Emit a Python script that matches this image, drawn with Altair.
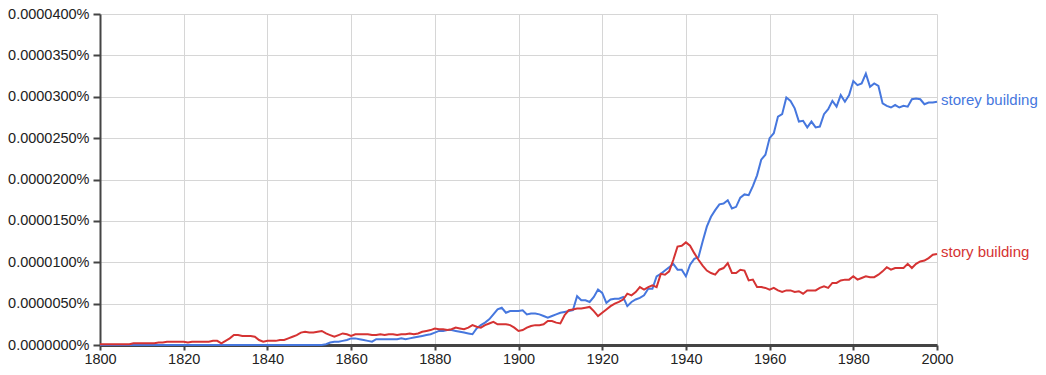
import altair as alt
import pandas as pd

# values in units of 0.0000001 %
years = list(range(1800, 2001))

storey = [
    0, 0, 0, 0, 0, 0, 0, 0, 0, 0,            # 1800
    0, 0, 0, 0, 0, 0, 0, 0, 0, 0,            # 1810
    0, 0, 0, 0, 0, 0, 0, 0, 0, 0,            # 1820
    0, 0, 0, 0, 0, 0, 0, 0, 0, 0,            # 1830
    0, 0, 0, 0, 0, 0, 0, 0, 0, 0,            # 1840
    0, 0, 0, 0, 1, 3, 4, 4, 5, 6,            # 1850
    8, 8, 7, 6, 5, 4, 7, 7, 7, 7,            # 1860
    7, 7, 8, 7, 8, 9, 10, 11, 12, 13,        # 1870
    15, 17, 17, 18, 18, 17, 16, 15, 14, 13,  # 1880
    20, 24, 27, 31, 37, 43, 45, 39, 41, 41,  # 1890
    41, 42, 37, 38, 38, 37, 35, 33, 35, 37,  # 1900
    39, 40, 41, 42, 59, 54, 54, 52, 58, 67,  # 1910
    63, 51, 55, 56, 56, 58, 47, 52, 55, 57,  # 1920
    60, 68, 68, 83, 86, 90, 94, 98, 91, 91,  # 1930
    83, 97, 104, 106, 125, 143, 155, 163, 170, 171,  # 1940
    175, 165, 167, 178, 182, 181, 192, 205, 224, 230,  # 1950
    250, 256, 276, 279, 299, 295, 286, 270, 271, 263,  # 1960
    270, 263, 264, 279, 285, 295, 288, 302, 294, 302,  # 1970
    319, 314, 316, 328, 312, 316, 313, 292, 289, 287,  # 1980
    290, 287, 289, 288, 297, 298, 297, 291, 293, 293,  # 1990
    294,                                     # 2000
]

story = [
    1, 1, 1, 1, 1, 1, 1, 1, 2, 2,            # 1800
    2, 2, 2, 2, 3, 3, 4, 4, 4, 4,            # 1810
    4, 3, 4, 4, 4, 4, 4, 5, 5, 2,            # 1820
    5, 8, 12, 12, 11, 11, 11, 10, 6, 4,      # 1830
    5, 5, 5, 6, 6, 8, 10, 12, 15, 16,        # 1840
    15, 15, 16, 17, 14, 12, 10, 12, 14, 13,  # 1850
    11, 13, 13, 13, 13, 12, 12, 13, 12, 13,  # 1860
    13, 12, 13, 13, 14, 13, 14, 16, 17, 18,  # 1870
    20, 19, 19, 18, 19, 21, 20, 19, 21, 24,  # 1880
    22, 21, 24, 26, 28, 25, 25, 25, 24, 21,  # 1890
    17, 18, 21, 23, 24, 24, 25, 29, 29, 27,  # 1900
    26, 36, 42, 43, 44, 44, 45, 46, 41, 35,  # 1910
    39, 43, 47, 50, 52, 55, 62, 60, 64, 70,  # 1920
    67, 70, 72, 70, 86, 85, 89, 103, 119, 120,  # 1930
    124, 120, 111, 103, 96, 90, 87, 85, 91, 93,  # 1940
    99, 87, 87, 91, 90, 78, 79, 70, 70, 69,  # 1950
    67, 69, 66, 64, 66, 66, 64, 65, 62, 66,  # 1960
    66, 66, 69, 71, 69, 75, 75, 78, 79, 79,  # 1970
    83, 79, 81, 83, 82, 82, 85, 89, 94, 91,  # 1980
    93, 93, 93, 98, 93, 98, 101, 102, 105, 109,  # 1990
    110,                                     # 2000
]

series_names = ["storey building", "story building"]
colors = ["#4677de", "#d53333"]
x_ticks = [1800, 1820, 1840, 1860, 1880, 1900, 1920, 1940, 1960, 1980, 2000]
y_ticks = [0, 50, 100, 150, 200, 250, 300, 350, 400]

rows = []
for name, vals in zip(series_names, [storey, story]):
    for yr, v in zip(years, vals):
        rows.append({"year": yr, "value": v, "series": name})
df = pd.DataFrame(rows)

FONT = "Liberation Sans"

x = alt.X(
    "year:Q",
    scale=alt.Scale(domain=[1800, 2000], nice=False, zero=False),
    axis=alt.Axis(
        values=x_ticks, format="d", title=None,
        grid=True, gridColor="#d6d6d6", gridWidth=1,
        domainColor="#444444", domainWidth=3,
        tickColor="#444444", tickSize=5, tickWidth=2,
        labelFlush=False, labelOverlap=False,
        labelFont=FONT, labelFontSize=14.5, labelColor="#222222", labelPadding=2,
    ),
)
y = alt.Y(
    "value:Q",
    scale=alt.Scale(domain=[0, 400], nice=False),
    axis=alt.Axis(
        values=y_ticks, title=None,
        labelExpr="format(datum.value * 1e-7, '.7f') + '%'",
        grid=True, gridColor="#d6d6d6", gridWidth=1,
        domainColor="#444444", domainWidth=2,
        tickColor="#444444", tickSize=7, tickWidth=2,
        labelFlush=False, labelOverlap=False,
        labelFont=FONT, labelFontSize=14.5, labelColor="#222222", labelPadding=4,
    ),
)
color = alt.Color("series:N", scale=alt.Scale(domain=series_names, range=colors), legend=None)

base = alt.Chart(df)
lines = base.mark_line(strokeWidth=2, interpolate="linear").encode(x=x, y=y, color=color)
labels = base.transform_filter("datum.year == 2000").mark_text(
    align="left", baseline="middle", dx=4, dy=-2, fontSize=15, font=FONT
).encode(x=x, y=y, text="series:N", color=color)

chart = alt.layer(lines, labels).properties(
    width=837, height=331,
    padding={"left": 100, "top": 14, "right": 109, "bottom": 30},
    autosize="none",
).configure_view(stroke=None)

chart.save("out.html", embed_options={"renderer": "svg", "actions": False})
